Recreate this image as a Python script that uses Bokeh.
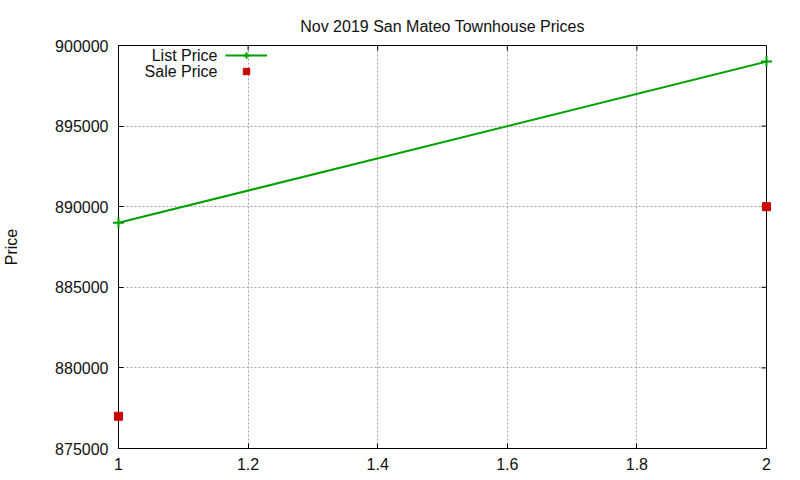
import math

from bokeh.plotting import figure
from bokeh.models import Range1d, FixedTicker, Legend, LegendItem, Label
from bokeh.embed import file_html
from bokeh.resources import INLINE

title = "Nov 2019 San Mateo Townhouse Prices"
x_vals = [1, 2]
list_price = [889000, 899000]
sale_price = [877000, 890000]
x_ticks = [1, 1.2, 1.4, 1.6, 1.8, 2]
x_tick_labels = ["1", "1.2", "1.4", "1.6", "1.8", "2"]
y_ticks = [875000, 880000, 885000, 890000, 895000, 900000]
y_tick_labels = ["875000", "880000", "885000", "890000", "895000", "900000"]
x_lo, x_hi = 1, 2
y_lo, y_hi = 875000, 900000

FONT = "Liberation Sans"
GREEN = "#00a000"
RED = "#cc0000"
INK = "#111111"

p = figure(width=792, height=472, output_backend="svg", toolbar_location=None,
           x_range=Range1d(x_lo, x_hi), y_range=Range1d(y_lo, y_hi),
           min_border_left=118, min_border_right=26, min_border_top=45, min_border_bottom=23)
p.background_fill_color = "white"
p.border_fill_color = "white"
p.outline_line_color = "black"
p.outline_line_width = 1

p.title.text = title
p.title.align = "center"
p.title.text_font = FONT
p.title.text_font_size = "16px"
p.title.text_font_style = "normal"
p.title.text_color = INK
p.title.standoff = 10
p.title.padding = 6

p.xaxis.ticker = FixedTicker(ticks=x_ticks)
p.xaxis.major_label_overrides = dict(zip(x_ticks, x_tick_labels))
p.yaxis.ticker = FixedTicker(ticks=y_ticks)
p.yaxis.major_label_overrides = dict(zip(y_ticks, y_tick_labels))
p.yaxis.axis_label = "Price"
p.yaxis.axis_label_text_font = FONT
p.yaxis.axis_label_text_font_size = "16px"
p.yaxis.axis_label_text_font_style = "normal"
p.yaxis.axis_label_text_color = INK
p.yaxis.axis_label_standoff = 32
p.yaxis.major_label_standoff = 10
p.xaxis.major_label_standoff = 9

for ax in p.xaxis + p.yaxis:
    ax.axis_line_color = "black"
    ax.major_tick_line_color = "black"
    ax.major_tick_in = 5
    ax.major_tick_out = 0
    ax.minor_tick_line_color = None
    ax.major_label_text_font = FONT
    ax.major_label_text_font_size = "16px"
    ax.major_label_text_color = INK

for g in (p.xgrid, p.ygrid):
    g.grid_line_color = "#a0a0a0"
    g.grid_line_dash = "2 2"
    g.grid_line_width = 1

# mirrored inward ticks on the top and right edges
p.ray(x=x_ticks, y=[y_hi] * len(x_ticks), length=5, length_units="screen",
      angle=-math.pi / 2, line_color="black", line_width=1)
p.ray(x=[x_hi] * len(y_ticks), y=y_ticks, length=5, length_units="screen",
      angle=math.pi, line_color="black", line_width=1)

line_r = p.line(x_vals, list_price, line_color=GREEN, line_width=2)
cross_r = p.scatter(x_vals, list_price, marker="cross", size=11, line_color=GREEN,
                    line_width=2, level="overlay")
sale_r = p.scatter(x_vals, sale_price, marker="square", size=8, fill_color=RED,
                   line_color=RED, level="overlay")

# gnuplot-style key: samples on the right, names drawn as labels to their left
legend = Legend(items=[LegendItem(label="List Price", renderers=[line_r, cross_r]),
                       LegendItem(label="Sale Price", renderers=[sale_r])],
                location=(107, 369), glyph_width=42, glyph_height=16, label_height=16,
                label_width=0, label_standoff=0, label_text_font_size="0px",
                spacing=0, padding=0, margin=0, border_line_color=None,
                background_fill_alpha=0)
p.add_layout(legend)

for i, name in enumerate(["List Price", "Sale Price"]):
    p.add_layout(Label(x=99, y=393 - 16 * i, x_units="screen", y_units="screen",
                       text=name, text_align="right", text_baseline="middle",
                       text_font=FONT, text_font_size="16px", text_color=INK))

open("out.html", "w").write(file_html(p, INLINE))
